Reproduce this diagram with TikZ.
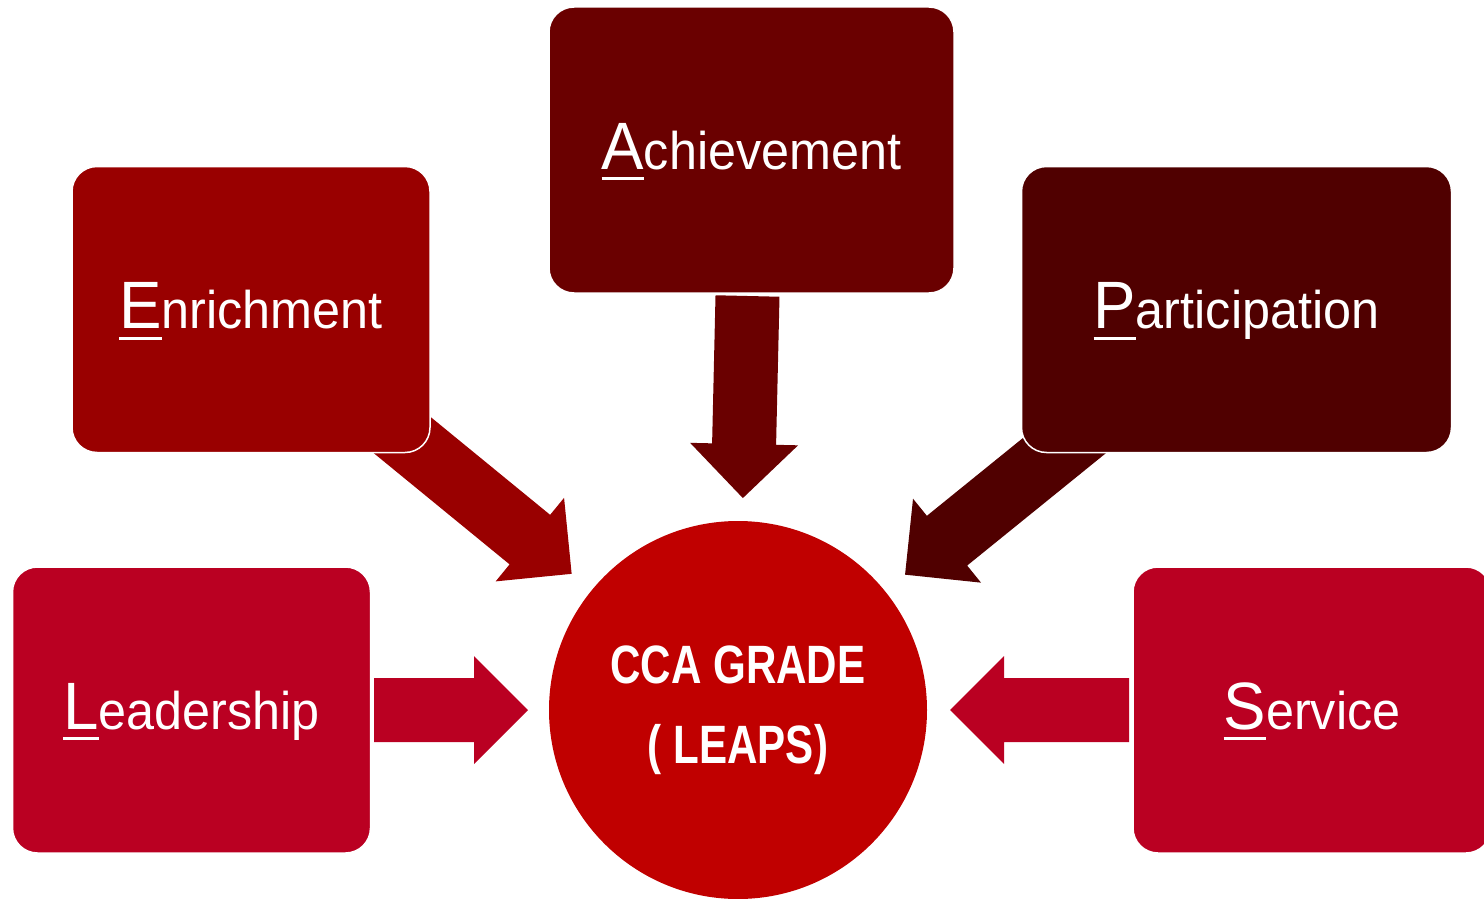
\documentclass[tikz,border=0pt]{standalone}
\usepackage{fontspec}
\usepackage{tikz}
\usetikzlibrary{calc, positioning}
\newfontfamily\boxfont[FakeStretch=0.95]{Liberation Sans}
\newfontfamily\gradefont[FakeStretch=0.78]{Liberation Sans}
\definecolor{enrichRed}{HTML}{990000}
\definecolor{achieveRed}{HTML}{6A0000}
\definecolor{partRed}{HTML}{500000}
\definecolor{leadRed}{HTML}{BA0022}
\definecolor{gradeRed}{HTML}{C00000}
% big underlined first letter of a label
\newcommand{\firstletter}[1]{\setbox0=\hbox{\fontsize{67}{67}\selectfont #1}%
  \rlap{\rule[-11pt]{\wd0}{3pt}}\box0}
% fat arrow from #1 to #2, filled with #3
\newcommand{\fatarrow}[3]{%
  \coordinate (hb) at ($(#2)!54pt!(#1)$);
  \fill[#3] ($(#1)!32pt!-90:(#2)$) -- ($(hb)!32pt!90:(#1)$) -- ($(hb)!54pt!90:(#1)$) -- (#2)
    -- ($(hb)!54pt!-90:(#1)$) -- ($(hb)!32pt!-90:(#1)$) -- ($(#1)!32pt!90:(#2)$) -- cycle;
}
\tikzset{%
% Specifications for style of nodes:
base/.style = {rectangle, rounded corners=25pt, draw=white, line width=1.5pt, minimum height=286pt,
  text=white, font={\boxfont\fontsize{53}{60}\selectfont}, text height=48pt, text depth=10pt},
smallbox/.style = {base, minimum width=358pt},
topbox/.style = {base, minimum width=405pt},
widebox/.style = {base, minimum width=430pt},
grade/.style = {circle, fill=gradeRed, minimum size=378pt, text=white, align=center,
  font={\gradefont\bfseries\fontsize{54}{80}\selectfont}},
}

\begin{document}
\begin{tikzpicture}[x=1pt, y=-1pt]
    \useasboundingbox (0,0) rectangle (1484,899);
    % Specification of nodes (position, etc.)
    \node (cca) [grade] at (738,710) {CCA GRADE\\( LEAPS)};

    \coordinate (fromE) at (374,412);
    \coordinate (fromA) at (747.5,296);
    \coordinate (fromP) at (1096,420);
    \coordinate (fromL) at (374,710);
    \coordinate (fromS) at (1129,710);
    \coordinate (toE) at ($(cca)!215pt!(fromE)$);
    \coordinate (toA) at ($(cca)!212pt!(fromA)$);
    \coordinate (toP) at ($(cca)!215pt!(fromP)$);
    \coordinate (toL) at ($(cca)!210pt!(fromL)$);
    \coordinate (toS) at ($(cca)!212pt!(fromS)$);

    \fatarrow{fromE}{toE}{enrichRed}
    \fatarrow{fromA}{toA}{achieveRed}
    \fatarrow{fromP}{toP}{partRed}
    \fatarrow{fromL}{toL}{leadRed}
    \fatarrow{fromS}{toS}{leadRed}

    \node (enrichment) [smallbox, fill=enrichRed] at (251,309.5) {\firstletter{E}nrichment};
    \node (achievement) [topbox, fill=achieveRed] at (751.5,150) {\firstletter{A}chievement};
    \node (participation) [widebox, fill=partRed] at (1236.5,309.5) {\firstletter{P}articipation};
    \node (leadership) [smallbox, fill=leadRed] at (191.5,710) {\firstletter{L}eadership};
    \node (service) [smallbox, fill=leadRed] at (1312,710) {\firstletter{S}ervice};
\end{tikzpicture}
\end{document}
